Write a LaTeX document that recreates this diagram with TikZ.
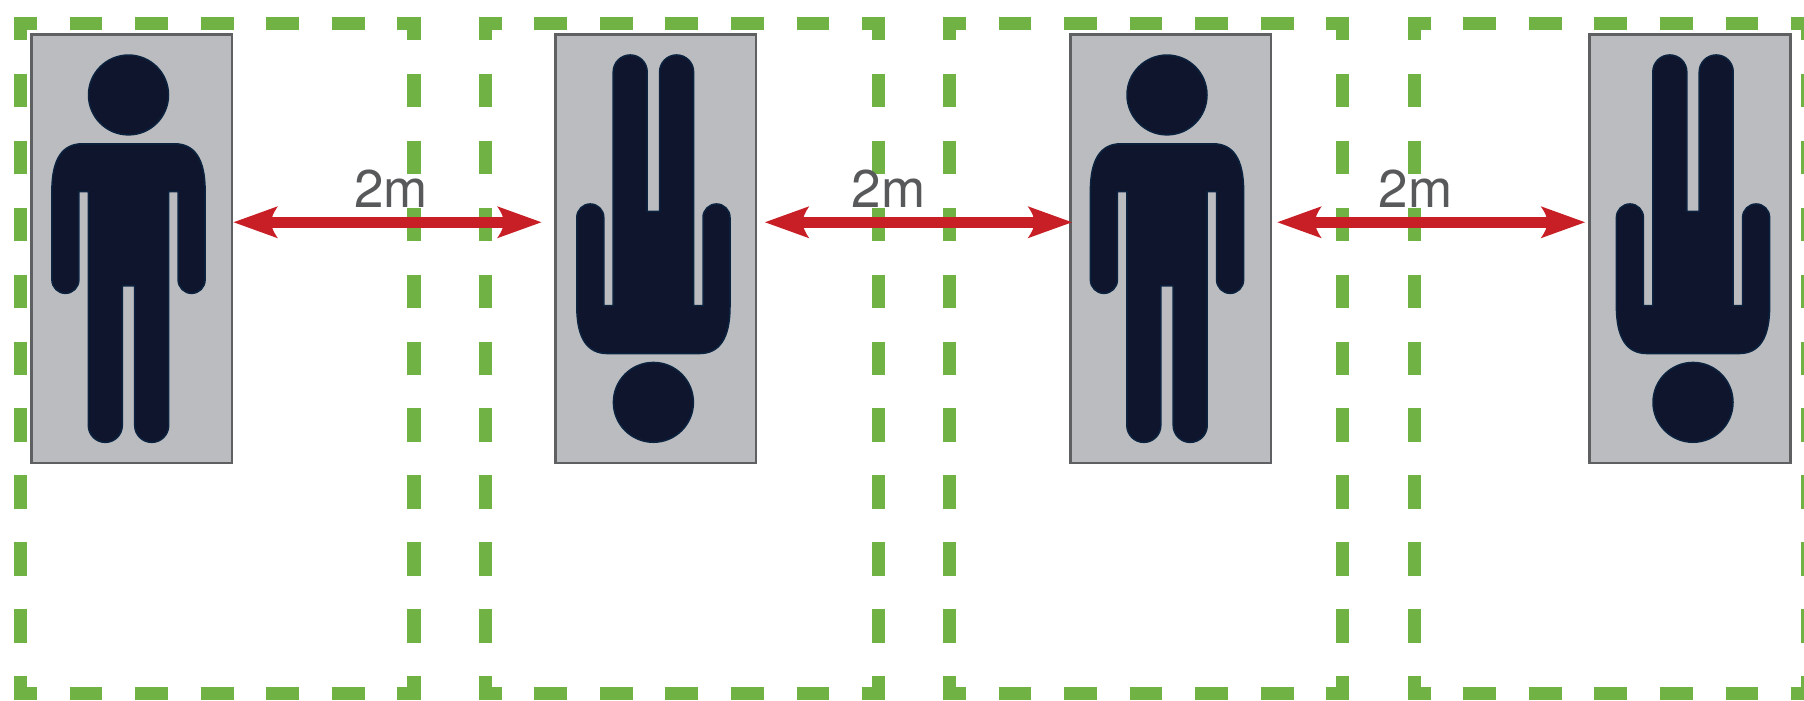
\documentclass[tikz,border=0pt]{standalone}
\usepackage{fontspec}
\setmainfont{TeX Gyre Heros}
\usetikzlibrary{arrows.meta}
\definecolor{zonegreen}{RGB}{112,178,68}
\definecolor{boxgrey}{RGB}{187,188,191}
\definecolor{boxline}{RGB}{95,96,98}
\definecolor{figfill}{RGB}{14,21,45}
\definecolor{figline}{RGB}{12,35,64}
\definecolor{arrowred}{RGB}{199,31,37}
\definecolor{labelgrey}{RGB}{88,89,91}
\pgfdeclarearrow{
  name=NotchHead,
  setup code={
    \pgfarrowssettipend{0pt}
    \pgfarrowssetlineend{-34pt}
    \pgfarrowssetvisualbackend{-37.8pt}
    \pgfarrowssetbackend{-44.3pt}
    \pgfarrowshullpoint{0pt}{0pt}
    \pgfarrowshullpoint{-44.3pt}{16pt}
    \pgfarrowshullpoint{-44.3pt}{-16pt}
  },
  drawing code={
    \pgfpathmoveto{\pgfqpoint{0pt}{0pt}}
    \pgfpathlineto{\pgfqpoint{-44.3pt}{16pt}}
    \pgfpathcurveto{\pgfqpoint{-39.5pt}{9pt}}{\pgfqpoint{-37.8pt}{5pt}}{\pgfqpoint{-37.8pt}{0pt}}
    \pgfpathcurveto{\pgfqpoint{-37.8pt}{-5pt}}{\pgfqpoint{-39.5pt}{-9pt}}{\pgfqpoint{-44.3pt}{-16pt}}
    \pgfpathclose
    \pgfusepathqfill
  }
}
\tikzset{
  x=1pt,y=-0.998pt,
  hside/.style={draw=zonegreen,line width=13pt,dash pattern=on 32.775pt off 32.775pt,dash phase=16.39pt},
  vside/.style={draw=zonegreen,line width=13.4pt,dash pattern=on 33.48pt off 33.48pt,dash phase=16.74pt},
  zonecorner/.style={fill=zonegreen},
  personbox/.style={draw=boxline,fill=boxgrey,line width=2.3pt},
  figure/.style={draw=figline,fill=figfill,line width=1.5pt,line join=round},
  gaparrow/.style={draw=arrowred,line width=11.5pt,{NotchHead}-{NotchHead}},
  gaplabel/.style={text=labelgrey,anchor=base,inner sep=0pt,font=\fontsize{53}{60}\selectfont}
}
\newcommand{\zoneframe}[2]{%
  \draw[hside] (#1,23.5) -- (#2,23.5);
  \draw[hside] (#1,694.5) -- (#2,694.5);
  \draw[vside] (#1,23.5) -- (#1,694.5);
  \draw[vside] (#2,23.5) -- (#2,694.5);
  \foreach \cx in {#1,#2}{\foreach \cy in {23.5,694.5}{
    \fill[zonecorner] (\cx-6.7,\cy-6.5) rectangle (\cx+6.7,\cy+6.5);}}
}
\newcommand{\personfig}[2]{%
  \begin{scope}[shift={(#1,249.15)},yscale=#2]
    \fill[figure] (0,-154) circle[radius=40];
    \fill[figure] (-46,-105.1) -- (46,-105.1)
      .. controls (66,-105.1) and (76.6,-90) .. (76.6,-58)
      -- (76.6,31.3)
      .. controls (76.6,38.76) and (70.56,44.8) .. (63.1,44.8)
      .. controls (55.64,44.8) and (49.6,38.76) .. (49.6,31.3)
      -- (49.6,-57.2) -- (40.2,-57.2) -- (40.2,177.1)
      .. controls (40.2,186.5) and (32.6,194.1) .. (23.2,194.1)
      .. controls (13.8,194.1) and (6.2,186.5) .. (6.2,177.1)
      -- (6.2,37.4) -- (-6.2,37.4) -- (-6.2,177.1)
      .. controls (-6.2,186.5) and (-13.8,194.1) .. (-23.2,194.1)
      .. controls (-32.6,194.1) and (-40.2,186.5) .. (-40.2,177.1)
      -- (-40.2,-57.2) -- (-49.6,-57.2) -- (-49.6,31.3)
      .. controls (-49.6,38.76) and (-55.64,44.8) .. (-63.1,44.8)
      .. controls (-70.56,44.8) and (-76.6,38.76) .. (-76.6,31.3)
      -- (-76.6,-58)
      .. controls (-76.6,-90) and (-66,-105.1) .. (-46,-105.1) -- cycle;
  \end{scope}
}
\begin{document}
\begin{tikzpicture}
  \useasboundingbox (0,0) rectangle (1804,702);
  \fill[white] (0,0) rectangle (1804,702);
  \zoneframe{20.5}{413.8}
  \zoneframe{485.2}{878.5}
  \zoneframe{949.4}{1342.7}
  \zoneframe{1414.2}{1807.5}
  \draw[personbox] (31.5,34.5) rectangle (231.8,464);
  \draw[personbox] (555.4,34.5) rectangle (755.9,464);
  \draw[personbox] (1070.4,34.5) rectangle (1270.8,464);
  \draw[personbox] (1589.5,34.5) rectangle (1790.4,464);
  \personfig{128.5}{1}
  \personfig{653.4}{-1}
  \personfig{1167}{1}
  \personfig{1693}{-1}
  \coordinate (a1l) at (233.6,222.7);
  \coordinate (a1r) at (541.4,222.7);
  \coordinate (a2l) at (765,222.7);
  \coordinate (a2r) at (1072,222.7);
  \coordinate (a3l) at (1277.4,222.7);
  \coordinate (a3r) at (1585,222.7);
  \draw[gaparrow] (a1l) -- (a1r);
  \draw[gaparrow] (a2l) -- (a2r);
  \draw[gaparrow] (a3l) -- (a3r);
  \node[gaplabel] (l1) at (391,207.5) {2m};
  \node[gaplabel] (l2) at (888.6,207.5) {2m};
  \node[gaplabel] (l3) at (1415.5,207.5) {2m};
\end{tikzpicture}
\end{document}
